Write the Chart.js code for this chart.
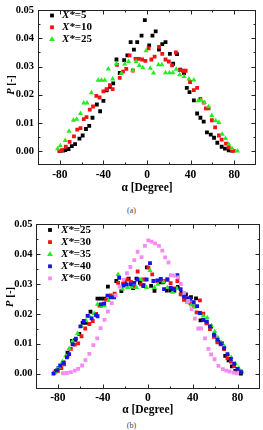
<!DOCTYPE html>
<html>
<head>
<meta charset="utf-8">
<script src="https://cdn.jsdelivr.net/npm/chart.js@4/dist/chart.umd.min.js"></script>
<style>
  body { margin: 0; background: #fff; width: 263px; height: 430px; position: relative; overflow: hidden; }
  .box { position: absolute; left: 0; width: 263px; }
  .cap { position: absolute; left: 0; width: 263px; text-align: center; font: 8px "Liberation Serif", serif; line-height: 8px; color: #444; }
</style>
</head>
<body>
<div class="box" style="top:0;height:196px"><canvas id="chartA"></canvas></div>
<div class="cap" style="top:207px">(a)</div>
<div class="box" style="top:215px;height:202px"><canvas id="chartB"></canvas></div>
<div class="cap" style="top:422px">(b)</div>
<script>
// angle [deg] and probability P for each X* series
const alpha5 = [-80,-77,-75,-72,-69,-66,-62,-59,-56,-53,-50,-46,-43,-40,-37,-34,-31,-28,-25,-21,-18,-15,-12,-9,-5,-2,2,5,8,11,14,17,21,24,27.5,30.5,34,36.5,39,43,46,49,52,55,58.5,61.5,64.5,68.5,71.5,75,78];
const p5 = [0,0.0001,0.0003,0.0007,0.0017,0.0024,0.0044,0.0055,0.0078,0.0089,0.0118,0.0165,0.0141,0.0178,0.0215,0.0228,0.024,0.0325,0.0277,0.0323,0.034,0.0387,0.036,0.0387,0.041,0.0465,0.0375,0.041,0.0425,0.036,0.038,0.0387,0.0345,0.031,0.0344,0.0289,0.0277,0.0224,0.0209,0.018,0.0133,0.0118,0.0104,0.0066,0.0058,0.0047,0.0029,0.0015,0.0008,0.0002,0.0001];

const alpha10 = [-80.5,-78,-74.5,-71,-67,-64,-61,-58,-55.5,-52.5,-49.5,-46.5,-43.5,-40,-37,-34,-31.5,-27.5,-25,-22,-19,-16,-13,-10.5,-7.5,-4.5,-1.5,1.5,4,7,11,14,17,20,23,26.5,30,33,35.5,39.5,43,46,49,52,54,56.5,59.5,62.5,66,68.5,72.5,75,78,79.5];
const p10 = [0,0.0003,0.0015,0.0032,0.0052,0.0076,0.0081,0.0113,0.012,0.0147,0.0158,0.0196,0.019,0.0212,0.022,0.0234,0.022,0.0306,0.026,0.0282,0.0292,0.034,0.0286,0.0327,0.0327,0.0325,0.032,0.0365,0.0325,0.0335,0.037,0.0345,0.0325,0.0318,0.0304,0.035,0.0287,0.0285,0.0285,0.0245,0.0216,0.0224,0.0185,0.0172,0.0151,0.0151,0.0109,0.0084,0.0055,0.004,0.0026,0.0013,0.0002,0];

const alpha25 = [-82,-79.5,-75,-71.5,-67.5,-64.5,-61,-58,-55,-51,-44.8,-41.8,-38.8,-35.5,-31.5,-28,-23.5,-20.5,-17,-13,-10,-7,-3.8,-0.8,3,6,10.5,13.6,17,20.6,23.7,26.8,30,34,38.5,43,47,49.5,52.5,56.4,59.4,63,66,69,72,75,78,83];
const p25 = [0.0008,0.0018,0.0037,0.007,0.0109,0.0113,0.0133,0.017,0.017,0.0207,0.0251,0.0251,0.0251,0.0291,0.0256,0.031,0.0276,0.0309,0.0318,0.0286,0.0318,0.0304,0.0296,0.0356,0.0294,0.0277,0.0306,0.0306,0.0278,0.0278,0.0278,0.029,0.0271,0.0265,0.0256,0.0252,0.0178,0.018,0.0172,0.0157,0.0126,0.0107,0.0101,0.0059,0.0044,0.0024,0.0009,0];

const alpha30 = [-83,-80,-77,-74.5,-71.5,-68.5,-65,-62,-59,-55.7,-52,-49,-46,-43,-40,-37,-33,-29.5,-26.4,-22,-18,-15,-12,-9,-6,-3.5,0.6,4,8.6,11.6,14.5,17.5,20.4,23.4,26.4,29.3,32.3,35.3,38,41,43.5,46.5,49.5,52.4,55.4,59,62,65,68,71,74,77,80,82.7];
const p30 = [0.0003,0.0009,0.0018,0.0031,0.0058,0.0083,0.0097,0.0101,0.0125,0.0151,0.0166,0.0176,0.02,0.0228,0.0232,0.0247,0.0262,0.0268,0.0304,0.0301,0.0315,0.0307,0.029,0.0342,0.0299,0.0315,0.0355,0.0332,0.031,0.0313,0.031,0.0315,0.0303,0.0285,0.031,0.0265,0.0247,0.0245,0.0236,0.0225,0.0205,0.0245,0.0201,0.0168,0.0149,0.0123,0.0105,0.0098,0.0082,0.0052,0.004,0.0025,0.0016,0.0008];

const alpha35 = [-82,-79,-76,-73,-70,-67,-62.5,-59,-55,-52,-47.7,-44.7,-41.8,-38.8,-35,-30.5,-26.4,-22.5,-18,-14.5,-10,-6,-1,2,6,9,14,17.5,22,26,31.7,35.3,38.8,42,46.5,49.5,53,56.6,59.6,62.5,65.5,68.4,71.4,74.4,78,81,84];
const p35 = [0.0005,0.0022,0.004,0.006,0.0084,0.0108,0.0134,0.0158,0.0177,0.0192,0.0201,0.0232,0.0225,0.0228,0.0245,0.0258,0.0332,0.0283,0.0288,0.029,0.0288,0.0315,0.0288,0.0345,0.0288,0.0299,0.0307,0.0288,0.0272,0.0285,0.0261,0.0239,0.023,0.0223,0.0201,0.0193,0.0187,0.016,0.0141,0.012,0.0103,0.009,0.0065,0.0054,0.0033,0.0018,0.0005];

const alpha40 = [-84,-81,-78,-75,-72,-70,-67,-64,-60,-57,-53.6,-50,-46,-44.7,-41.8,-38.8,-35.9,-32.9,-30,-25.5,-21.5,-18.7,-15,-12,-9,-4,-1,2,5,8.6,11.6,14.5,17.5,20.4,23.4,26.4,29.3,32.3,35.3,38,41,44,46.5,49.5,52.4,55.4,59,62,65,68,71,74,77,80,83.2];
const p40 = [0,0.0011,0.0027,0.0036,0.0054,0.0065,0.0098,0.0117,0.0158,0.0176,0.0193,0.0185,0.0196,0.0192,0.0232,0.0234,0.0261,0.0255,0.0255,0.0321,0.0295,0.0299,0.0299,0.0304,0.0315,0.0293,0.0315,0.037,0.031,0.0312,0.0317,0.0283,0.0315,0.0288,0.0283,0.033,0.0283,0.0258,0.0253,0.025,0.0239,0.0226,0.0203,0.0179,0.0174,0.0158,0.013,0.0114,0.01,0.0085,0.0065,0.0049,0.0033,0.0016,0.0005];

const alpha60 = [-75.5,-72,-68.5,-65,-62,-58.5,-55.5,-52,-48.5,-45,-42,-38.5,-35.5,-32,-28.5,-25,-21.5,-18.5,-15.5,-12,-9,-5.5,-2.5,0.5,3.5,6.5,10,13,15.5,18.5,20.5,23.5,27,29.5,32.5,36,39,42,45,47.5,51,54,56.5,59.5,63,67,70,73,76.5,79.5];
const p60 = [0.0001,0.0002,0.0005,0.001,0.0016,0.0027,0.0045,0.0066,0.0095,0.0118,0.0152,0.018,0.0208,0.0236,0.0262,0.0291,0.0314,0.0336,0.0357,0.038,0.0408,0.039,0.0428,0.0446,0.0442,0.0436,0.0428,0.0412,0.0389,0.0372,0.033,0.0328,0.0322,0.03,0.027,0.0243,0.0216,0.0184,0.0151,0.0151,0.0118,0.0083,0.0064,0.0048,0.0026,0.0015,0.001,0.0007,0.0003,0.0001];

const FONT = '"Liberation Serif", "Times New Roman", serif';
const col = { black: "#000000", red: "#f01414", green: "#22ee22", blue: "#1414e6", pink: "#f28cf2" };

function series(label, xs, ys, color, style, order) {
  const r = style === "triangle" ? 3 : 2.7;
  return {
    label: label,
    data: xs.map((x, i) => ({ x: x, y: ys[i] })),
    backgroundColor: color,
    borderColor: color,
    borderWidth: 0,
    pointStyle: style,
    pointRadius: r,
    pointHoverRadius: r,
    showLine: false,
    order: order,
  };
}

// box round the plot with inward ticks on all four sides
const frameTicks = {
  id: "frameTicks",
  afterDatasetsDraw(chart) {
    const { ctx, chartArea: a, scales } = chart;
    const x = scales.x, y = scales.y;
    const L = Math.round(a.left) + 0.5, R = Math.round(a.right) - 0.5;
    const T = Math.round(a.top) + 0.5, B = Math.round(a.bottom) - 0.5;
    ctx.save();
    ctx.strokeStyle = "#222";
    ctx.lineWidth = 1;
    ctx.beginPath();
    x.ticks.forEach((t) => {
      if (t.value <= x.min || t.value >= x.max) return;
      const px = Math.round(x.getPixelForValue(t.value)) + 0.5;
      const len = t.value % 40 === 0 ? 4 : 2;
      ctx.moveTo(px, B); ctx.lineTo(px, B - len);
      ctx.moveTo(px, T); ctx.lineTo(px, T + len);
    });
    y.ticks.forEach((t) => {
      if (t.value <= y.min + 1e-9 || t.value >= y.max - 1e-9) return;
      const py = Math.round(y.getPixelForValue(t.value)) + 0.5;
      const len = Math.round(t.value * 1000) % 10 === 0 ? 4 : 2;
      ctx.moveTo(L, py); ctx.lineTo(L + len, py);
      ctx.moveTo(R, py); ctx.lineTo(R - len, py);
    });
    ctx.stroke();
    ctx.strokeRect(L, T, R - L, B - T);
    ctx.restore();
  },
};

// "P [-]" with an italic P, turned upright
const yTitle = {
  id: "yTitle",
  afterDraw(chart, args, o) {
    const ctx = chart.ctx;
    const f1 = "italic bold " + o.size + "px " + FONT;
    const f2 = "bold " + o.size + "px " + FONT;
    ctx.save();
    ctx.translate(o.x, o.y);
    ctx.rotate(-Math.PI / 2);
    ctx.font = f1;
    const w1 = ctx.measureText("P").width;
    ctx.font = f2;
    const w2 = ctx.measureText(" [-]").width;
    const s = -(w1 + w2) / 2;
    ctx.fillStyle = "#000";
    ctx.textAlign = "left";
    ctx.textBaseline = "middle";
    ctx.font = f1;
    ctx.fillText("P", s, 0);
    ctx.font = f2;
    ctx.fillText(" [-]", s + w1, 0);
    ctx.restore();
  },
};

// legend inside the plot, "X*" italic
const markLegend = {
  id: "markLegend",
  afterDraw(chart, args, o) {
    const ctx = chart.ctx;
    ctx.save();
    chart.data.datasets.forEach((ds, i) => {
      const cy = o.y + i * o.dy;
      ctx.fillStyle = ds.backgroundColor;
      ctx.beginPath();
      if (ds.pointStyle === "triangle") {
        ctx.moveTo(o.mx, cy - 3.2);
        ctx.lineTo(o.mx + 2.9, cy + 1.9);
        ctx.lineTo(o.mx - 2.9, cy + 1.9);
        ctx.closePath();
      } else {
        ctx.rect(o.mx - 1.9, cy - 1.9, 3.8, 3.8);
      }
      ctx.fill();
      const parts = ds.label.split("=");
      ctx.fillStyle = "#000";
      ctx.textAlign = "left";
      ctx.textBaseline = "middle";
      ctx.font = "italic bold " + o.size + "px " + FONT;
      ctx.fillText(parts[0], o.tx, cy);
      const w = ctx.measureText(parts[0]).width;
      ctx.font = "bold " + o.size + "px " + FONT;
      ctx.fillText("=" + parts[1], o.tx + w, cy);
    });
    ctx.restore();
  },
};

function makeChart(id, datasets, g) {
  return new Chart(document.getElementById(id), {
    type: "scatter",
    data: { datasets: datasets },
    plugins: [frameTicks, yTitle, markLegend],
    options: {
      responsive: true,
      maintainAspectRatio: false,
      animation: false,
      events: [],
      layout: { padding: g.pad },
      plugins: {
        legend: { display: false },
        tooltip: { enabled: false },
        yTitle: g.yTitle,
        markLegend: g.legend,
      },
      scales: {
        x: {
          type: "linear",
          min: -100,
          max: 100,
          afterFit: (s) => { s.height = g.xh; },
          grid: { display: false, drawTicks: false },
          border: { display: false },
          ticks: {
            stepSize: 20,
            autoSkip: false,
            maxRotation: 0,
            padding: 3,
            color: "#000",
            font: { family: FONT, size: 11.5, weight: "bold" },
            callback: (v) => (v % 40 === 0 && Math.abs(v) <= 80 ? v : ""),
          },
          title: {
            display: true,
            text: "α [Degree]",
            color: "#000",
            font: { family: FONT, size: 11.5, weight: "bold" },
            padding: { top: 0, bottom: g.titlePad },
          },
        },
        y: {
          type: "linear",
          min: -0.005,
          max: 0.05,
          afterFit: (s) => { s.width = g.yw; },
          grid: { display: false, drawTicks: false },
          border: { display: false },
          ticks: {
            stepSize: 0.005,
            autoSkip: false,
            padding: g.yPad,
            color: "#000",
            font: { family: FONT, size: 10.5, weight: "bold" },
            callback: (v) => {
              const m = Math.round(v * 1000);
              return m % 10 === 0 && m >= 0 ? (m / 1000).toFixed(2) : "";
            },
          },
        },
      },
    },
  });
}

makeChart("chartA", [
  series("X*=5", alpha5, p5, col.black, "rect", 3),
  series("X*=10", alpha10, p10, col.red, "rect", 2),
  series("X*=25", alpha25, p25, col.green, "triangle", 1),
], {
  pad: { left: 0, right: 7, top: 5, bottom: 1 },
  yw: 38, xh: 30, titlePad: 0, yPad: 4,
  yTitle: { x: 11, y: 85, size: 10.5 },
  legend: { mx: 52, tx: 62, y: 15.5, dy: 11.8, size: 11 },
});

makeChart("chartB", [
  series("X*=25", alpha25, p25, col.black, "rect", 5),
  series("X*=30", alpha30, p30, col.red, "rect", 4),
  series("X*=35", alpha35, p35, col.green, "triangle", 3),
  series("X*=40", alpha40, p40, col.blue, "rect", 2),
  series("X*=60", alpha60, p60, col.pink, "rect", 1),
], {
  pad: { left: 0, right: 2.5, top: 5, bottom: 0 },
  yw: 35.5, xh: 28.5, titlePad: 0, yPad: 3,
  yTitle: { x: 10, y: 82, size: 11 },
  legend: { mx: 50, tx: 61, y: 15, dy: 12.1, size: 11 },
});
</script>
</body>
</html>
